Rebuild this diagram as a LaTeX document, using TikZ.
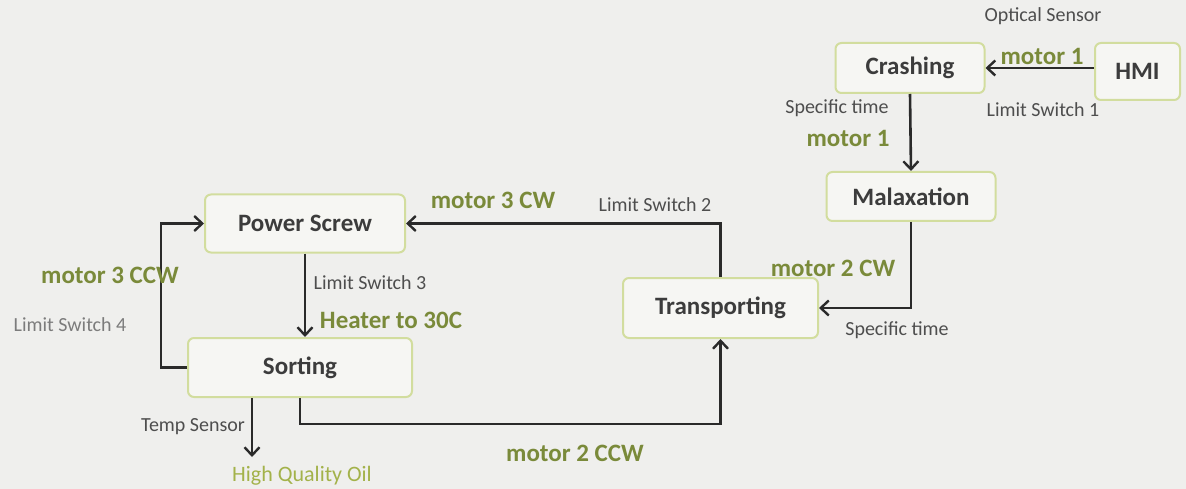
\documentclass[tikz,border=0pt]{standalone}
\usepackage{fontspec}
\setmainfont{Carlito}
\usetikzlibrary{arrows.meta}
\definecolor{bg}{HTML}{EFEFED}
\definecolor{boxfill}{HTML}{F6F6F3}
\definecolor{boxline}{HTML}{D2DD9E}
\definecolor{boxtext}{HTML}{3C3C3C}
\definecolor{olive}{HTML}{7A8A3A}
\definecolor{lightolive}{HTML}{A3B24A}
\definecolor{graytext}{HTML}{4E4E4E}
\definecolor{fadetext}{HTML}{7C7C7C}
\definecolor{wire}{HTML}{2A2A2A}
\tikzset{
  stage/.style={draw=boxline, line width=2pt, fill=boxfill, rounded corners=6pt,
    font=\fontsize{25}{28}\selectfont\bfseries, text=boxtext, inner sep=0pt},
  act/.style={font=\fontsize{25}{28}\selectfont\bfseries, text=olive, inner sep=0pt},
  sense/.style={font=\fontsize{20}{22}\selectfont, text=graytext, inner sep=0pt},
  wireline/.style={draw=wire, line width=2.6pt},
  arr/.style={wireline, -{Straight Barb[length=8pt,width=15pt,line width=2.4pt]}}
}
\begin{document}
\begin{tikzpicture}[x=1pt,y=-1pt]
\useasboundingbox (0,0) rectangle (1186,489);
\fill[bg] (0,0) rectangle (1186,489);

% stages
\node[stage, minimum width=149pt, minimum height=50pt] (crash) at (910,68) {Crashing};
\node[stage, minimum width=85pt, minimum height=57pt] (hmi) at (1137.5,71.5) {HMI};
\node[stage, minimum width=169pt, minimum height=49pt] (malax) at (911,196.5) {Malaxation};
\node[stage, minimum width=195pt, minimum height=60pt] (transp) at (720.5,308) {Transporting};
\node[stage, minimum width=200pt, minimum height=58pt] (power) at (305,223.5) {Power Screw};
\node[stage, minimum width=224pt, minimum height=59pt] (sort) at (300,367.5) {Sorting};
\coordinate (oiltip) at (252,457);

% connectors
\draw[arr] (hmi.west |- crash.east) -- (crash.east);
\draw[arr] (crash.south) -- (malax.north);
\draw[arr] (malax.south) |- (transp.east);
\draw[arr] (transp.north) |- (power.east);
\draw[arr] (power.south) -- (power.south |- sort.north);
\draw[arr] (sort.west) -- ++(-26,0) |- (power.west);
\draw[arr] (sort.south -| oiltip) -- (oiltip);
\draw[arr] (sort.south) -- ++(0,26) -| (transp.south);

% labels
\node[sense] (optical) at (1043,16) {Optical Sensor};
\node[act] (m1a) at (1042,56) {motor 1};
\node[sense] (ls1) at (1043,110) {Limit Switch 1};
\node[sense] (st1) at (837,108) {Specific time};
\node[act] (m1b) at (848,138) {motor 1};
\node[act] (m2cw) at (833,268) {motor 2 CW};
\node[sense] (st2) at (897,330) {Specific time};
\node[act] (m3cw) at (493,200) {motor 3 CW};
\node[sense] (ls2) at (655,205) {Limit Switch 2};
\node[sense] (ls3) at (370,283) {Limit Switch 3};
\node[act] (heat) at (391,320) {Heater to 30C};
\node[act] (m3ccw) at (110,275) {motor 3 CCW};
\node[sense, text=fadetext] (ls4) at (70,325) {Limit Switch 4};
\node[sense] (temp) at (193,427) {Temp Sensor};
\node[act] (m2ccw) at (575,453) {motor 2 CCW};
\node[font=\fontsize{22}{24}\selectfont, text=lightolive, inner sep=0pt] (oil) at (302,476) {High Quality Oil};
\end{tikzpicture}
\end{document}
